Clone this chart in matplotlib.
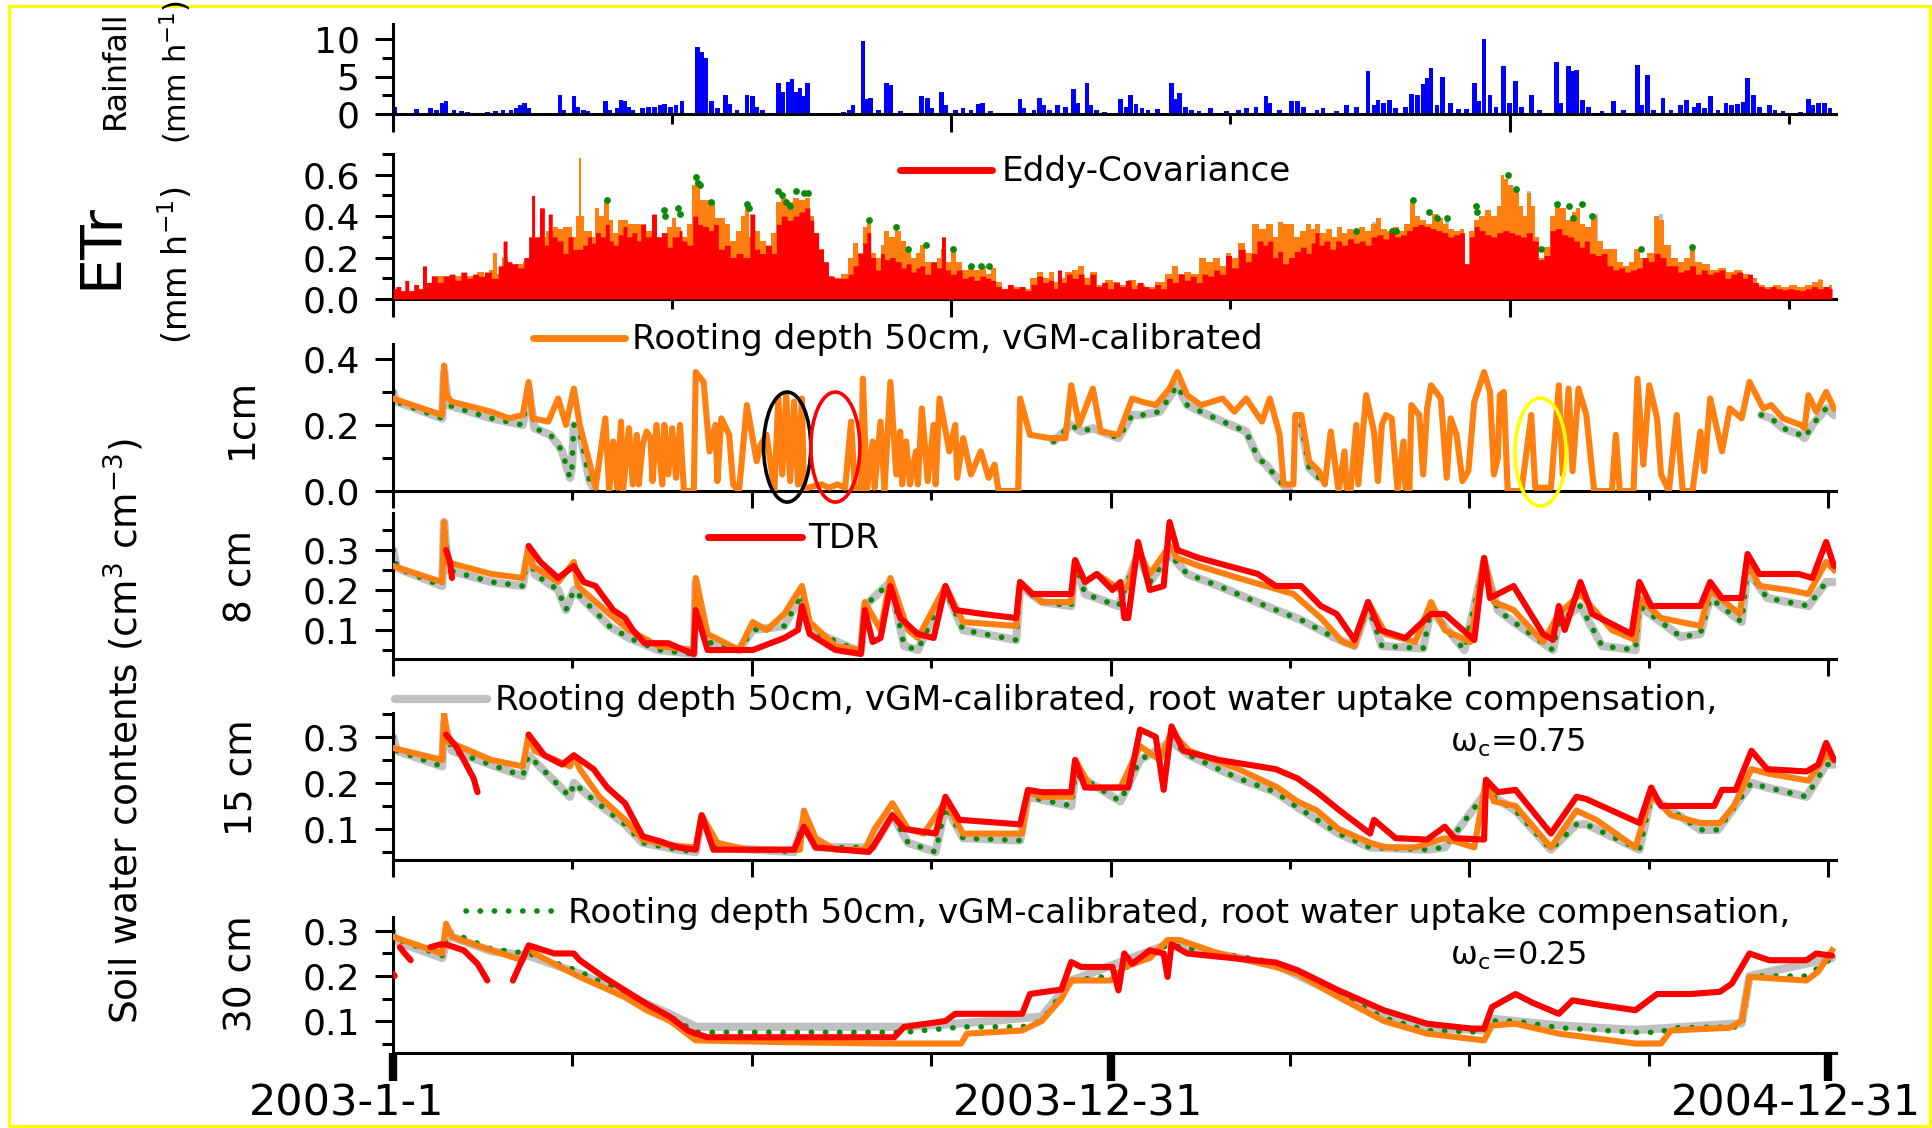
import numpy as np
import matplotlib
matplotlib.use("Agg")
import matplotlib.pyplot as plt
from matplotlib.patches import Ellipse, Rectangle
from matplotlib.lines import Line2D
import matplotlib.transforms as mtransforms
from matplotlib.ticker import FixedLocator, FormatStrFormatter

nan = np.nan

# ---------------- data (day since 2003-1-1, value) ----------------
rain = [(0,2.3),(1,1.0),(12,0.7),(19,0.8),(22,0.6),(25,1.5),(27,1.7),(31,0.5),(35,0.4),(38,0.3),
        (48,0.3),(52,0.4),(56,0.6),(60,0.5),(63,0.8),(65,1.2),(67,1.5),(69,0.8),(85,2.6),(87,0.6),
        (92,2.4),(94,1.0),(97,0.5),(99,0.4),(108,1.7),(110,0.5),(114,0.8),(116,1.9),(118,1.8),(120,1.0),
        (122,0.6),(127,0.8),(130,1.0),(133,0.9),(136,1.2),(138,1.4),(141,0.9),(144,1.2),(147,1.7),
        (155,9.0),(157,8.3),(159,7.5),(162,1.7),(165,0.8),(169,2.6),(171,1.4),(175,0.6),(180,2.6),
        (183,2.4),(185,1.0),(188,0.6),(196,4.2),(198,3.0),(201,4.3),(203,4.7),(205,3.0),(207,3.5),
        (209,2.4),(211,4.1),(229,0.3),(232,0.5),(234,1.2),(239,9.7),(241,2.0),(243,2.1),(247,0.5),
        (251,4.2),(253,3.9),(258,0.4),(269,2.4),(272,2.1),(274,0.8),(279,3.0),(281,1.2),(286,0.5),
        (290,0.8),(294,0.5),(298,1.3),(300,1.5),(304,0.4),(319,2.0),(321,0.8),(326,0.6),(329,2.1),
        (331,1.2),(334,0.5),(338,1.2),(342,1.0),(346,3.3),(348,1.5),(353,4.1),(355,1.2),(358,0.5),
        (362,0.3),(370,2.0),(373,1.0),(375,2.6),(378,1.3),(381,0.8),(384,0.5),(389,0.7),(396,4.1),
        (398,2.0),(400,2.8),(403,1.0),(406,0.6),(410,0.4),(416,0.8),(424,0.4),(430,0.5),(434,0.8),
        (439,1.0),(444,2.4),(446,1.5),(451,0.5),(457,1.7),(460,1.7),(463,1.0),(470,0.6),(473,0.8),
        (480,0.4),(485,1.2),(490,1.0),(496,5.7),(499,1.2),(501,1.9),(504,1.5),(507,1.9),(510,0.8),
        (515,1.0),(518,2.7),(521,2.5),(524,4.0),(526,4.8),(528,6.1),(531,1.2),(534,4.9),(538,1.5),
        (542,0.7),(546,0.7),(550,4.1),(552,1.8),(555,10.0),(558,2.6),(561,1.0),(565,6.4),(568,1.5),
        (571,4.4),(574,1.0),(579,2.6),(583,0.5),(592,7.0),(594,1.5),(598,6.4),(600,5.8),(602,5.9),
        (605,1.9),(608,1.0),(615,0.4),(621,1.7),(626,0.5),(633,6.6),(635,1.2),(638,5.2),(641,0.6),
        (646,2.1),(650,0.5),(655,1.2),(658,1.9),(662,1.0),(664,1.5),(667,0.8),(670,2.4),(674,0.6),
        (678,1.5),(681,1.2),(684,1.4),(687,1.6),(689,4.8),(692,2.6),(695,1.0),(700,1.2),(703,0.6),
        (707,0.4),(712,0.2),(716,0.3),(720,2.0),(722,1.2),(725,1.5),(728,1.5),(731,0.8)]

etr_ec = [(0,0.05),(3,0.06),(5,0.04),(7,0.09),(9,0.04),(12,0.07),(14,0.05),(16,0.16),(18,0.08),(21,0.11),
          (24,0.08),(27,0.11),(30,0.12),(33,0.09),(36,0.13),(39,0.10),(42,0.12),(45,0.11),(48,0.13),(52,0.10),
          (55,0.16),(57,0.28),(59,0.18),(62,0.17),(65,0.15),(68,0.20),(70,0.30),(71,0.50),(73,0.30),(76,0.44),
          (78,0.26),(80,0.41),(82,0.30),(85,0.28),(88,0.22),(90,0.30),(93,0.24),(95,0.24),(98,0.26),(100,0.30),
          (102,0.27),(104,0.32),(107,0.30),(109,0.36),(111,0.28),(113,0.26),(116,0.31),(118,0.35),(120,0.30),
          (123,0.32),(125,0.28),(127,0.36),(130,0.30),(133,0.41),(135,0.30),(138,0.32),(141,0.25),(143,0.30),
          (145,0.30),(146,0.33),(148,0.28),(151,0.26),(154,0.40),(156,0.36),(159,0.35),(162,0.33),(164,0.36),
          (167,0.24),(170,0.26),(173,0.20),(176,0.22),(180,0.20),(183,0.41),(185,0.24),(188,0.22),(191,0.26),
          (194,0.22),(196,0.36),(199,0.40),(202,0.38),(205,0.40),(208,0.42),(211,0.44),(213,0.38),(215,0.32),
          (218,0.24),(220,0.18),(223,0.11),(226,0.10),(230,0.10),(233,0.12),(235,0.16),(238,0.22),(240,0.27),
          (242,0.32),(244,0.20),(247,0.14),(249,0.22),(251,0.19),(254,0.20),(257,0.18),(260,0.15),(262,0.17),
          (265,0.13),(267,0.15),(269,0.16),(272,0.12),(275,0.18),(278,0.15),(280,0.30),(282,0.14),(285,0.12),
          (288,0.14),(291,0.10),(294,0.11),(297,0.09),(300,0.11),(303,0.10),(305,0.09),(308,0.06),(311,0.05),
          (314,0.07),(317,0.05),(320,0.06),(323,0.04),(326,0.07),(329,0.11),(332,0.08),(335,0.09),(337,0.05),
          (339,0.14),(341,0.08),(344,0.12),(347,0.10),(350,0.12),(353,0.07),(356,0.12),(359,0.06),(362,0.08),
          (365,0.05),(368,0.08),(371,0.06),(374,0.09),(377,0.05),(380,0.08),(383,0.06),(386,0.05),(389,0.07),
          (392,0.05),(395,0.10),(398,0.08),(401,0.12),(404,0.09),(407,0.11),(410,0.08),(413,0.12),(416,0.11),
          (419,0.14),(422,0.12),(425,0.21),(428,0.15),(432,0.24),(435,0.18),(438,0.22),(441,0.28),(444,0.26),
          (446,0.28),(449,0.20),(451,0.23),(454,0.17),(457,0.20),(460,0.23),(463,0.25),(466,0.22),(468,0.27),
          (470,0.32),(472,0.26),(475,0.28),(478,0.24),(481,0.28),(484,0.26),(487,0.29),(490,0.27),(493,0.28),
          (496,0.26),(499,0.30),(502,0.31),(505,0.29),(508,0.32),(511,0.30),(514,0.31),(517,0.33),(520,0.35),
          (523,0.36),(526,0.35),(529,0.34),(532,0.33),(535,0.32),(538,0.30),(541,0.31),(544,0.32),(546,0.17),
          (549,0.30),(551,0.35),(554,0.33),(557,0.31),(560,0.30),(563,0.32),(566,0.33),(569,0.32),(572,0.31),
          (575,0.30),(578,0.32),(581,0.28),(584,0.19),(587,0.21),(590,0.33),(593,0.34),(596,0.31),(599,0.30),
          (602,0.28),(605,0.25),(607,0.28),(610,0.22),(613,0.21),(616,0.22),(619,0.16),(622,0.14),(625,0.15),
          (628,0.13),(631,0.14),(634,0.15),(637,0.20),(640,0.18),(643,0.22),(646,0.20),(649,0.16),(652,0.16),
          (655,0.13),(658,0.14),(661,0.16),(664,0.12),(667,0.14),(670,0.12),(673,0.13),(676,0.14),(679,0.10),
          (682,0.12),(685,0.13),(688,0.10),(690,0.12),(693,0.08),(696,0.06),(699,0.05),(702,0.06),(705,0.05),
          (708,0.045),(711,0.05),(714,0.045),(717,0.04),(720,0.05),(723,0.06),(726,0.05),(729,0.06),(732,0.05)]

etr_model = [(0,0.04),(40,0.11),(45,0.13),(48,0.10),(50,0.14),(52,0.22),(54,0.12),(57,0.20),(60,0.16),(64,0.17),
             (68,0.18),(72,0.25),(76,0.30),(80,0.33),(83,0.35),(85,0.34),(88,0.35),(90,0.35),(92,0.30),(94,0.40),
             (95,0.68),(96,0.40),(98,0.33),(100,0.33),(102,0.30),(104,0.44),(106,0.40),(109,0.48),(111,0.38),
             (113,0.32),(116,0.38),(118,0.38),(121,0.36),(124,0.36),(127,0.36),(130,0.33),(133,0.38),(136,0.30),
             (138,0.32),(141,0.35),(143,0.39),(145,0.35),(148,0.30),(151,0.36),(153,0.55),(154,0.57),(155,0.55),
             (157,0.48),(160,0.48),(163,0.47),(165,0.39),(168,0.39),(170,0.36),(173,0.28),(176,0.33),(178,0.40),
             (180,0.46),(182,0.30),(185,0.33),(188,0.28),(191,0.25),(194,0.32),(196,0.47),(199,0.49),(202,0.47),
             (205,0.49),(208,0.48),(211,0.49),(213,0.40),(215,0.32),(218,0.24),(220,0.18),(223,0.11),(226,0.10),
             (230,0.12),(233,0.20),(235,0.27),(238,0.22),(240,0.35),(242,0.38),(244,0.22),(247,0.20),(249,0.26),
             (251,0.33),(254,0.30),(257,0.33),(260,0.28),(262,0.24),(265,0.20),(267,0.22),(269,0.26),(272,0.18),
             (275,0.17),(278,0.20),(280,0.24),(283,0.18),(285,0.24),(288,0.18),(291,0.14),(294,0.16),(297,0.14),
             (300,0.16),(303,0.12),(305,0.15),(308,0.08),(312,0.05),(318,0.06),(322,0.05),(326,0.10),(329,0.13),
             (332,0.10),(335,0.13),(337,0.08),(340,0.10),(344,0.13),(347,0.14),(350,0.16),(353,0.10),(356,0.13),
             (360,0.07),(364,0.09),(368,0.08),(372,0.07),(376,0.09),(380,0.07),(385,0.06),(390,0.08),(395,0.12),
             (398,0.16),(401,0.12),(404,0.13),(408,0.12),(412,0.20),(415,0.18),(419,0.20),(422,0.16),(425,0.22),
             (428,0.20),(432,0.27),(435,0.22),(439,0.36),(442,0.34),(446,0.36),(449,0.30),(451,0.37),(454,0.36),
             (457,0.36),(460,0.30),(463,0.33),(466,0.36),(468,0.34),(470,0.36),(473,0.32),(476,0.34),(479,0.30),
             (481,0.35),(484,0.32),(487,0.34),(490,0.33),(493,0.35),(496,0.33),(499,0.36),(501,0.39),(504,0.34),
             (507,0.33),(510,0.35),(513,0.33),(516,0.36),(519,0.48),(521,0.40),(524,0.38),(527,0.36),(530,0.41),
             (533,0.39),(535,0.36),(538,0.34),(541,0.33),(544,0.34),(546,0.17),(549,0.33),(551,0.38),(554,0.40),
             (557,0.43),(560,0.40),(563,0.45),(564,0.60),(566,0.58),(568,0.55),(571,0.52),(574,0.45),(576,0.40),
             (578,0.51),(580,0.45),(582,0.30),(584,0.20),(587,0.25),(590,0.40),(592,0.46),(595,0.44),(598,0.38),
             (601,0.42),(603,0.44),(605,0.36),(608,0.35),(611,0.40),(614,0.28),(617,0.24),(621,0.24),(624,0.18),
             (627,0.16),(630,0.18),(633,0.24),(636,0.20),(640,0.22),(643,0.40),(645,0.38),(648,0.26),(652,0.20),
             (655,0.18),(658,0.20),(661,0.25),(664,0.18),(668,0.17),(672,0.14),(676,0.15),(680,0.13),(684,0.14),
             (688,0.12),(692,0.10),(696,0.07),(700,0.06),(704,0.07),(708,0.06),(712,0.07),(716,0.06),(720,0.07),
             (724,0.08),(726,0.09),(729,0.06),(732,0.07)]

etr_comp25 = [(109,0.48),(138,0.43),(138.5,0.40),(145,0.44),(146,0.41),(154,0.59),(155,0.56),(156,0.55),
              (162,0.47),(180,0.46),(181,0.44),(196,0.52),(198,0.50),(200,0.47),(202,0.45),(205,0.52),
              (209,0.51),(211,0.51),(242,0.38),(256,0.35),(262,0.24),(271,0.26),(285,0.24),(294,0.16),
              (299,0.16),(303,0.16),(490,0.33),(508,0.33),(510,0.33),(519,0.48),(527,0.42),(531,0.39),
              (536,0.39),(551,0.45),(551.5,0.42),(567,0.60),(571,0.53),(584,0.24),(592,0.46),(598,0.45),
              (600,0.39),(605,0.46),(610,0.40),(635,0.24),(661,0.25)]

etr_comp75 = [(499,0.37),(536,0.40),(578,0.52),(600,0.38),(612,0.41),(645,0.41),(661,0.26),(726,0.095)]

swc1_model = [(0,0.28),(25,0.23),(26,0.38),(27,0.29),(30,0.27),(50,0.24),(59,0.22),(66,0.23),(69,0.33),(71,0.22),
              (79,0.21),(84,0.28),(88,0.20),(92,0.31),(95,0.20),(100,0.085),(103,0.01),(108,0.22),(110,0.0),
              (112,0.15),(114,0.01),(116,0.21),(117,0.0),(120,0.19),(122,0.02),(124,0.17),(125,0.02),(127,0.14),
              (129,0.18),(131,0.16),(132,0.03),(134,0.20),(137,0.02),(138,0.20),(140,0.05),(142,0.19),(144,0.04),
              (146,0.20),(148,0.0),(153,0.0),(154,0.36),(158,0.33),(161,0.12),(164,0.20),(165,0.03),(167,0.22),
              (171,0.17),(173,0.02),(176,0.0),(180,0.26),(185,0.09),(187,0.14),(190,0.17),(194,0.0),(196,0.28),
              (198,0.05),(200,0.29),(202,0.03),(204,0.27),(206,0.02),(208,0.28),(209,0.0),(211,0.01),(218,0.02),
              (222,0.01),(226,0.02),(230,0.01),(233,0.21),(235,0.0),(238,0.0),(239,0.34),(241,0.0),(244,0.15),
              (245,0.01),(248,0.21),(250,0.0),(253,0.33),(256,0.05),(258,0.18),(259,0.02),(261,0.15),(263,0.02),
              (266,0.12),(267,0.02),(269,0.25),(272,0.03),(275,0.20),(276,0.02),(278,0.28),(283,0.12),(286,0.20),
              (287,0.04),(290,0.16),(294,0.05),(299,0.12),(303,0.04),(306,0.08),(308,0.0),(318,0.0),(319,0.28),
              (324,0.17),(334,0.16),(342,0.16),(345,0.32),(349,0.20),(356,0.31),(360,0.18),(369,0.17),(376,0.28),
              (381,0.27),(388,0.26),(395,0.31),(399,0.36),(404,0.29),(411,0.26),(422,0.28),(428,0.24),(434,0.28),
              (442,0.21),(446,0.28),(451,0.17),(453,0.02),(458,0.02),(459,0.23),(462,0.23),(466,0.09),(471,0.06),
              (474,0.02),(477,0.18),(481,0.0),(484,0.12),(485,0.01),(487,0.0),(490,0.20),(491,0.02),(495,0.29),
              (499,0.18),(501,0.03),(503,0.20),(505,0.23),(508,0.22),(511,0.0),(514,0.15),(515,0.01),(517,0.0),
              (518,0.26),(522,0.23),(524,0.05),(526,0.25),(528,0.32),(533,0.28),(536,0.04),(538,0.22),(541,0.17),
              (544,0.03),(547,0.06),(550,0.27),(555,0.36),(558,0.30),(560,0.05),(562,0.10),(563,0.29),(565,0.30),
              (567,0.0),(574,0.0),(579,0.23),(581,0.01),(589,0.01),(593,0.32),(595,0.05),(598,0.31),(600,0.06),
              (603,0.31),(607,0.23),(611,0.0),(620,0.0),(622,0.17),(624,0.0),(631,0.0),(633,0.34),(636,0.08),
              (639,0.32),(643,0.22),(645,0.05),(649,0.0),(653,0.23),(656,0.0),(661,0.0),(665,0.18),(667,0.06),
              (670,0.28),(676,0.12),(680,0.25),(686,0.22),(690,0.33),(697,0.25),(701,0.26),(707,0.22),(716,0.20),
              (718,0.19),(720,0.29),(724,0.24),(729,0.30),(733,0.25)]

swc1_comp25 = [(0,0.30),(2,0.27),(25,0.22),(26,0.36),(28,0.26),(50,0.22),(66,0.20),(69,0.31),(72,0.19),(80,0.17),
               (84,0.14),(86,0.12),(88,0.08),(90,0.04),(91,0.07),(92,0.20),(95,0.18),(100,0.03),(103,0.0),(104,nan),
               (336,0.15),(345,0.20),(350,0.18),(356,0.19),(369,0.16),(376,0.23),(381,0.23),(390,0.24),(399,0.32),
               (404,0.26),(411,0.24),(422,0.21),(434,0.18),(440,0.10),(444,0.08),(451,0.03),(456,0.0),(457,nan),
               (462,0.20),(466,0.07),(471,0.04),(472,nan),
               (696,0.23),(701,0.22),(707,0.19),(716,0.17),(718,0.16),(722,0.20),(729,0.25),(733,0.23)]

swc8_model = [(0,0.26),(25,0.22),(26,0.37),(27,0.27),(50,0.24),(66,0.23),(69,0.31),(71,0.26),(84,0.22),(92,0.27),
              (94,0.21),(110,0.14),(120,0.10),(135,0.06),(153,0.05),(154,0.23),(160,0.09),(176,0.05),(183,0.12),
              (190,0.10),(199,0.14),(208,0.21),(212,0.12),(225,0.06),(238,0.05),(240,0.17),(248,0.10),(253,0.23),
              (262,0.10),(267,0.08),(281,0.21),(290,0.12),(317,0.11),(319,0.22),(330,0.17),(345,0.17),(347,0.27),
              (352,0.22),(358,0.24),(370,0.20),(374,0.21),(379,0.30),(385,0.24),(395,0.31),(399,0.28),(410,0.26),
              (430,0.23),(444,0.21),(458,0.19),(472,0.13),(483,0.07),(489,0.06),(496,0.17),(505,0.09),(520,0.07),
              (528,0.17),(535,0.10),(548,0.07),(555,0.28),(560,0.17),(570,0.15),(585,0.07),(593,0.14),(604,0.19),
              (620,0.10),(632,0.075),(634,0.18),(645,0.13),(665,0.11),(670,0.20),(685,0.14),(689,0.27),(695,0.21),
              (710,0.20),(720,0.19),(729,0.27),(733,0.25)]

swc8_tdr = [(27,0.30),(29,0.27),(30,0.23),(31,nan),
            (69,0.31),(75,0.27),(84,0.23),(92,0.26),(97,0.22),(103,0.21),(112,0.15),(118,0.13),(122,0.10),
            (128,0.067),(140,0.067),(148,0.05),(153,0.04),(154,0.15),(160,0.05),(176,0.05),(183,0.05),(199,0.08),
            (206,0.10),(208,0.16),(212,0.09),(225,0.05),(238,0.04),(240,0.15),(244,0.07),(248,0.08),(253,0.21),
            (258,0.13),(267,0.09),(275,0.08),(281,0.21),(286,0.15),(300,0.14),(317,0.13),(319,0.22),(325,0.19),
            (345,0.19),(347,0.275),(352,0.22),(358,0.24),(366,0.20),(370,0.22),(372,0.13),(374,0.13),(379,0.32),
            (385,0.20),(392,0.21),(395,0.37),(399,0.30),(410,0.28),(425,0.26),(440,0.24),(449,0.21),(462,0.21),
            (472,0.16),(480,0.14),(489,0.075),(496,0.17),(502,0.10),(515,0.08),(528,0.14),(535,0.14),(550,0.075),
            (555,0.28),(558,0.18),(570,0.21),(585,0.09),(590,0.075),(593,0.16),(596,0.10),(604,0.22),(610,0.14),
            (630,0.09),(634,0.22),(640,0.16),(665,0.16),(670,0.22),(676,0.18),(686,0.18),(689,0.29),(695,0.24),
            (715,0.24),(722,0.23),(729,0.32),(733,0.26)]

swc8_comp25 = [(0,0.30),(2,0.255),(25,0.21),(26,0.37),(28,0.25),(50,0.22),(66,0.21),(69,0.30),(72,0.24),(84,0.20),
               (88,0.15),(92,0.20),(100,0.16),(110,0.11),(120,0.08),(135,0.05),(153,0.04),(154,0.22),(160,0.07),
               (176,0.05),(183,0.10),(199,0.11),(208,0.19),(212,0.10),(238,0.045),(240,0.16),(253,0.22),(260,0.06),
               (267,0.05),(281,0.20),(290,0.10),(317,0.075),(319,0.21),(330,0.17),(345,0.16),(347,0.27),(352,0.19),
               (369,0.16),(379,0.29),(385,0.22),(395,0.29),(404,0.24),(420,0.21),(444,0.16),(462,0.125),(478,0.083),
               (489,0.06),(496,0.16),(503,0.06),(524,0.054),(528,0.15),(545,0.05),(555,0.27),(562,0.15),(570,0.12),
               (590,0.05),(593,0.12),(604,0.16),(615,0.06),(632,0.05),(634,0.16),(655,0.083),(665,0.09),(670,0.18),
               (686,0.12),(689,0.25),(699,0.18),(720,0.16),(729,0.22),(733,0.22)]

swc15_model = [(0,0.276),(25,0.25),(26,0.35),(28,0.29),(50,0.25),(66,0.236),(69,0.305),(72,0.27),(90,0.236),
               (92,0.26),(95,0.23),(105,0.17),(118,0.12),(127,0.077),(140,0.065),(154,0.06),(157,0.13),(165,0.07),
               (180,0.055),(207,0.055),(209,0.14),(215,0.08),(225,0.055),(240,0.055),(245,0.10),(254,0.156),
               (262,0.10),(270,0.09),(281,0.16),(290,0.09),(320,0.09),(323,0.18),(330,0.17),(345,0.17),(347,0.25),
               (355,0.19),(370,0.19),(380,0.28),(390,0.25),(396,0.31),(405,0.27),(430,0.23),(450,0.19),(460,0.16),
               (470,0.14),(481,0.10),(497,0.07),(505,0.06),(520,0.06),(535,0.08),(550,0.06),(556,0.207),(560,0.16),
               (571,0.15),(589,0.06),(602,0.14),(612,0.12),(632,0.06),(640,0.175),(650,0.13),(665,0.113),(675,0.113),
               (682,0.15),(691,0.23),(700,0.22),(720,0.205),(729,0.26),(733,0.25)]

swc15_tdr = [(27,0.305),(32,0.28),(36,0.25),(41,0.21),(43,0.18),(44,nan),
             (69,0.305),(77,0.26),(86,0.24),(92,0.26),(102,0.23),(109,0.19),(118,0.156),(127,0.084),(136,0.073),
             (145,0.06),(154,0.055),(157,0.13),(163,0.055),(204,0.055),(209,0.105),(215,0.06),(242,0.05),
             (244,0.06),(254,0.13),(260,0.10),(276,0.09),(281,0.17),(288,0.12),(319,0.11),(323,0.185),(330,0.18),
             (345,0.18),(347,0.25),(352,0.19),(374,0.19),(380,0.316),(388,0.30),(392,0.185),(396,0.323),(402,0.27),
             (420,0.25),(449,0.23),(460,0.21),(470,0.18),(481,0.142),(497,0.09),(499,0.12),(510,0.08),(526,0.077),
             (535,0.105),(540,0.08),(555,0.077),(556,0.207),(562,0.18),(571,0.185),(589,0.09),(602,0.17),
             (607,0.165),(634,0.113),(640,0.19),(645,0.15),(672,0.15),(676,0.185),(683,0.185),(691,0.27),
             (699,0.23),(719,0.225),(725,0.24),(729,0.287),(733,0.25)]

swc15_comp25 = [(0,0.30),(2,0.27),(25,0.236),(26,0.33),(30,0.27),(66,0.215),(69,0.26),(90,0.17),(92,0.20),
                (100,0.17),(118,0.11),(127,0.07),(145,0.055),(154,0.05),(157,0.12),(165,0.06),(204,0.05),
                (209,0.12),(215,0.06),(244,0.06),(254,0.13),(262,0.07),(276,0.05),(281,0.15),(290,0.08),
                (319,0.075),(323,0.17),(345,0.15),(347,0.22),(370,0.16),(380,0.25),(396,0.29),(405,0.26),
                (430,0.21),(449,0.18),(459,0.15),(481,0.09),(497,0.06),(526,0.055),(535,0.06),(556,0.18),
                (571,0.14),(589,0.055),(602,0.11),(607,0.11),(634,0.055),(640,0.17),(665,0.098),(674,0.098),
                (691,0.20),(699,0.19),(719,0.17),(729,0.24),(733,0.24)]

swc30_model = [(0,0.287),(25,0.25),(27,0.316),(30,0.287),(50,0.257),(66,0.235),(69,0.265),(72,0.25),(85,0.22),
               (95,0.198),(118,0.153),(129,0.124),(141,0.10),(154,0.057),(200,0.053),(250,0.05),(289,0.05),
               (292,0.072),(320,0.079),(330,0.10),(340,0.15),(345,0.19),(365,0.19),(372,0.22),(385,0.24),
               (394,0.28),(400,0.28),(420,0.25),(449,0.22),(460,0.205),(481,0.153),(504,0.10),(526,0.072),
               (555,0.057),(559,0.09),(571,0.094),(593,0.072),(632,0.05),(645,0.05),(650,0.079),(680,0.085),
               (686,0.10),(690,0.198),(719,0.19),(725,0.21),(732,0.257)]

swc30_tdr = [(0,0.205),(0.8,0.20),(1.5,nan),(3.5,0.264),(6,0.25),(9,0.235),(10,nan),
             (19,0.264),(24,0.27),(27,0.27),(36,0.257),(43,0.227),(48,0.19),(49,nan),
             (61,0.19),(69,0.268),(82,0.25),(92,0.25),(95,0.235),(107,0.198),(118,0.168),(129,0.138),(141,0.109),
             (150,0.079),(154,0.072),(160,0.064),(200,0.064),(255,0.064),(260,0.087),(281,0.10),(286,0.116),
             (320,0.116),(324,0.16),(340,0.17),(345,0.231),(350,0.22),(366,0.22),(369,0.168),(372,0.25),
             (376,0.227),(385,0.257),(392,0.25),(394,0.198),(396,0.27),(404,0.25),(449,0.23),(460,0.213),
             (481,0.168),(504,0.124),(526,0.094),(549,0.083),(555,0.083),(559,0.131),(571,0.16),(580,0.14),
             (593,0.116),(600,0.146),(615,0.135),(632,0.124),(643,0.16),(660,0.16),(675,0.165),(681,0.183),
             (690,0.25),(700,0.235),(719,0.235),(724,0.25),(732,0.245)]

swc30_comp25 = [(0,0.30),(3,0.28),(25,0.245),(28,0.30),(50,0.26),(69,0.25),(95,0.21),(118,0.16),(141,0.11),
                (154,0.075),(260,0.075),(290,0.087),(320,0.087),(330,0.10),(345,0.19),(365,0.20),(394,0.27),
                (420,0.25),(449,0.23),(481,0.16),(504,0.107),(526,0.079),(555,0.075),(559,0.10),(571,0.10),
                (593,0.085),(632,0.075),(645,0.075),(650,0.085),(686,0.087),(690,0.20),(719,0.20),(732,0.24)]

swc30_comp75 = [(0,0.29),(3,0.275),(25,0.24),(28,0.29),(50,0.255),(69,0.245),(95,0.205),(141,0.115),(154,0.087),
                (260,0.087),(290,0.095),(330,0.11),(345,0.19),(394,0.27),(449,0.225),(504,0.11),(526,0.085),
                (555,0.08),(559,0.105),(593,0.09),(632,0.08),(686,0.095),(690,0.20),(732,0.24)]

date_ticks = [0, 365, 730]
date_labels = ["2003-1-1", "2003-12-31", "2004-12-31"]

C_BLUE = "#0000ff"
C_RED = "#ff0000"
C_ORANGE = "#ff8010"
C_GRAY = "#c0c0c0"
C_GREEN = "#0a8a0a"

def xy(series):
    a = np.array(series, dtype=float)
    return a[:, 0], a[:, 1]

# ---------------- figure ----------------
W, H = 1932, 1128
fig = plt.figure(figsize=(W / 100, H / 100), dpi=100)
plt.rcParams['font.family'] = ['DejaVu Sans']

AX_L, AX_R = 393, 1836
XMAX = 734

def px_axes(top, bottom):
    return fig.add_axes([AX_L / W, 1 - bottom / H, (AX_R - AX_L) / W, (bottom - top) / H])

def style(ax, ymaj, ymin, ylim, fmt):
    for s in ("top", "right"):
        ax.spines[s].set_visible(False)
    for s in ("left", "bottom"):
        ax.spines[s].set_linewidth(2.2)
    ax.set_xlim(0, XMAX)
    ax.set_ylim(*ylim)
    ax.yaxis.set_major_locator(FixedLocator(ymaj))
    ax.yaxis.set_minor_locator(FixedLocator(ymin))
    ax.yaxis.set_major_formatter(FormatStrFormatter(fmt))
    ax.tick_params(axis="y", which="major", length=13, width=2.2, pad=11, labelsize=26, direction="out")
    ax.tick_params(axis="y", which="minor", length=8, width=2.2, direction="out")
    ax.tick_params(axis="x", which="both", labelbottom=False, direction="out", width=2.2)
    ax.patch.set_alpha(0)

def soil_xticks(ax):
    ax.xaxis.set_major_locator(FixedLocator([0, 182.5, 365, 547.5, 730]))
    ax.xaxis.set_minor_locator(FixedLocator([91.25, 273.75, 456.25, 638.75]))
    ax.tick_params(axis="x", which="major", length=12)
    ax.tick_params(axis="x", which="minor", length=6.5)

def top_xticks(ax):
    ax.xaxis.set_major_locator(FixedLocator([0, 284, 568]))
    ax.xaxis.set_minor_locator(FixedLocator([142, 426, 710]))
    ax.tick_params(axis="x", which="major", length=13)
    ax.tick_params(axis="x", which="minor", length=7)

# --- Rainfall
ax_r = px_axes(24, 114)
d, v = xy(rain)
ax_r.bar(d, v, width=2.4, color=C_BLUE, linewidth=0)
style(ax_r, [0, 5, 10], [2.5, 7.5], (0, 12), "%d")
top_xticks(ax_r)

# --- ETr
ax_e = px_axes(154, 299)
d, v = xy(etr_comp75)
ax_e.bar(d, v, width=2.0, color=C_GRAY, linewidth=0, zorder=1)
d, v = xy(etr_model)
ax_e.fill_between(d, v, step="mid", color=C_ORANGE, linewidth=0, zorder=2)
d, v = xy(etr_comp25)
ax_e.scatter(d, v, s=24, color=C_GREEN, zorder=3, linewidths=0)
d, v = xy(etr_ec)
ax_e.fill_between(d, v, step="mid", color=C_RED, linewidth=0, zorder=4)
style(ax_e, [0, 0.2, 0.4, 0.6], [0.1, 0.3, 0.5, 0.7], (0, 0.70), "%.1f")
top_xticks(ax_e)

dot_style = dict(color=C_GREEN, lw=4.0, linestyle=(0, (0.05, 2.5)), dash_capstyle="round")

def soil(ax, model, comp25, comp75=None, tdr=None):
    d, v = xy(comp75 if comp75 is not None else comp25)
    ax.plot(d, v, color=C_GRAY, lw=6, zorder=1, solid_capstyle="round")
    d, v = xy(comp25)
    ax.plot(d, v, zorder=2, **dot_style)
    d, v = xy(model)
    ax.plot(d, v, color=C_ORANGE, lw=4.4, zorder=3, solid_joinstyle="round")
    if tdr is not None:
        d, v = xy(tdr)
        ax.plot(d, v, color=C_RED, lw=4.4, zorder=4, solid_joinstyle="round", solid_capstyle="round")

# --- 1 cm
ax1 = px_axes(344, 491)
soil(ax1, swc1_model, swc1_comp25)
style(ax1, [0, 0.2, 0.4], [0.1, 0.3], (0, 0.445), "%.1f")
soil_xticks(ax1)
for cx, cy, w, h, col in [(200.5, 0.133, 24, 0.333, "black"), (225, 0.133, 25, 0.333, "red"),
                          (583.7, 0.118, 26, 0.327, "#ffff00")]:
    ax1.add_patch(Ellipse((cx, cy), w, h, fill=False, ec=col, lw=2.6, clip_on=False, zorder=6))

# --- 8 cm
ax8 = px_axes(513, 659)
soil(ax8, swc8_model, swc8_comp25, tdr=swc8_tdr)
style(ax8, [0.1, 0.2, 0.3], [0.05, 0.15, 0.25, 0.35], (0.0275, 0.3925), "%.1f")
soil_xticks(ax8)

# --- 15 cm
ax15 = px_axes(713, 860)
soil(ax15, swc15_model, swc15_comp25, tdr=swc15_tdr)
style(ax15, [0.1, 0.2, 0.3], [0.05, 0.15, 0.25, 0.35], (0.0326, 0.352), "%.1f")
soil_xticks(ax15)

# --- 30 cm
ax30 = px_axes(917, 1053)
soil(ax30, swc30_model, swc30_comp25, comp75=swc30_comp75, tdr=swc30_tdr)
style(ax30, [0.1, 0.2, 0.3], [0.05, 0.15, 0.25], (0.029, 0.331), "%.1f")
ax30.xaxis.set_major_locator(FixedLocator(date_ticks))
ax30.xaxis.set_minor_locator(FixedLocator([91.25, 182.5, 273.75, 456.25, 547.5, 638.75]))
ax30.set_xticklabels(date_labels)
ax30.tick_params(axis="x", which="major", length=20, width=6, labelbottom=True, labelsize=31, pad=1)
ax30.tick_params(axis="x", which="minor", length=9, width=2.2)
for lab, dx in zip(ax30.get_xticklabels(), [-46, -33, -32]):
    lab.set_transform(lab.get_transform() + mtransforms.ScaledTranslation(dx / 100, 0, fig.dpi_scale_trans))

# ---------------- legends / labels in pixel coordinates ----------------
def fx(x): return x / W
def fy(y): return 1 - y / H

def handle(x0, x1, y, **kw):
    fig.add_artist(Line2D([fx(x0), fx(x1)], [fy(y), fy(y)], transform=fig.transFigure, **kw))

LEG_FS = 24.7
handle(900, 992, 170, color=C_RED, lw=5, solid_capstyle="round")
fig.text(fx(1002), fy(181), "Eddy-Covariance", fontsize=LEG_FS, va="baseline", ha="left")
handle(533, 625, 338, color=C_ORANGE, lw=5, solid_capstyle="round")
fig.text(fx(632), fy(349), "Rooting depth 50cm, vGM-calibrated", fontsize=LEG_FS, va="baseline", ha="left")
handle(708, 802, 537, color=C_RED, lw=5, solid_capstyle="round")
fig.text(fx(808), fy(548), "TDR", fontsize=LEG_FS, va="baseline", ha="left")
handle(395, 487, 699, color=C_GRAY, lw=6, solid_capstyle="round")
fig.text(fx(495), fy(710), "Rooting depth 50cm, vGM-calibrated, root water uptake compensation,",
         fontsize=LEG_FS, va="baseline", ha="left")
fig.text(fx(1450), fy(752), "ω$_{\\mathrm{c}}$=0.75", fontsize=23, va="baseline", ha="left")
handle(466, 556, 911, **dot_style)
fig.text(fx(568), fy(923), "Rooting depth 50cm, vGM-calibrated, root water uptake compensation,",
         fontsize=LEG_FS, va="baseline", ha="left")
fig.text(fx(1450), fy(965), "ω$_{\\mathrm{c}}$=0.25", fontsize=23, va="baseline", ha="left")

# y-axis labels
fig.text(fx(115), fy(70), "Rainfall", rotation=90, fontsize=23, ha="center", va="center")
fig.text(fx(176), fy(72), "(mm h$^{-1}$)", rotation=90, fontsize=22, ha="center", va="center")
fig.text(fx(102), fy(246), "ETr", rotation=90, fontsize=41, ha="center", va="center")
fig.text(fx(176), fy(265), "(mm h$^{-1}$)", rotation=90, fontsize=24, ha="center", va="center")
fig.text(fx(124), fy(731), "Soil water contents (cm$^{3}$ cm$^{-3}$)", rotation=90, fontsize=27,
         ha="center", va="center")
for yc, lab in [(418, "1cm"), (577, "8 cm"), (778, "15 cm"), (974, "30 cm")]:
    fig.text(fx(241), fy(yc), lab, rotation=90, fontsize=27, ha="center", va="center")

# yellow frame
fig.add_artist(Rectangle((fx(9), fy(1126)), (1930 - 9) / W, (1126 - 6) / H, transform=fig.transFigure,
                         fill=False, ec="#ffff00", lw=2.2))

fig.savefig("out.png", dpi=100)
